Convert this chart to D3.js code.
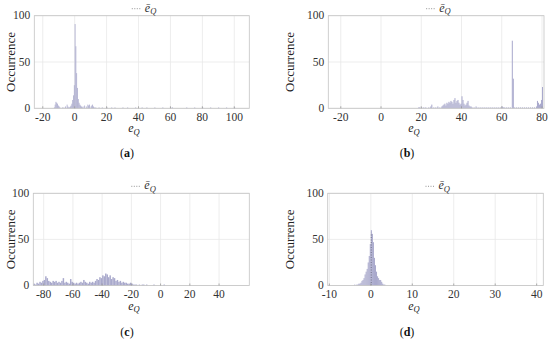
<!DOCTYPE html>
<html>
<head>
<meta charset="utf-8">
<script src="https://cdn.jsdelivr.net/npm/d3@7"></script>
<style>
  body { margin: 0; background: #fff; }
  svg { display: block; }
</style>
</head>
<body>
<svg id="chart" width="550" height="342" font-family="'Liberation Serif', 'DejaVu Serif', serif"></svg>
<script>
// ---- data ----
var yTicks = [0, 50, 100];

// (a)
var aTicks = [-20, 0, 20, 40, 60, 80, 100];
var aBinWidth = 0.5;
var aBinX = [-13, -12.5, -12, -11.5, -11, -10.5, -10, -9.5, -8, -7, -6, -5, -4.5, -4, -3.5, -3, -2.5, -2, -1.5, -1, -0.5,
  0, 0.5, 1, 1.5, 2, 2.5, 3, 3.5, 4, 4.5, 5, 6, 7, 8, 8.5, 9, 10, 10.5, 11, 11.5, 12, 13, 15, 17, 20, 23, 25, 30, 33,
  38, 42, 45, 50, 55, 60, 61, 70, 75, 80, 85, 90, 95, 100];
var aCount = [1, 4, 7, 6, 5, 3, 2, 1, 1, 1, 2, 4, 2, 1, 1, 2, 3, 5, 9, 14, 25,
  91, 67, 38, 22, 10, 6, 4, 3, 2, 1, 2, 3, 2, 4, 3, 4, 2, 3, 4, 2, 1, 1, 1, 1, 1, 1, 1, 1, 1,
  1, 1, 1, 1, 1, 1, 1, 1, 1, 1, 1, 1, 1, 1];

// (b)
var bTicks = [-20, 0, 20, 40, 60, 80];
var bBinWidth = 0.5;
var bBinX = [18.5, 19, 20, 21, 22, 23.5, 24.5, 25, 26, 27, 28, 29, 30, 30.5, 31, 31.5, 32, 32.5, 33, 33.5, 34, 34.5,
  35, 35.5, 36, 36.5, 37, 37.5, 38, 38.5, 39, 39.5, 40, 40.5, 41, 41.5, 42, 42.5, 43, 43.5, 44, 44.5, 45, 46, 47, 48,
  49, 50, 51, 52, 53, 54, 55, 56, 57, 58, 59, 60, 60.5, 61, 62, 63, 64, 65, 65.5, 66, 67, 68, 69, 70, 71, 72, 73, 74,
  75, 76, 77, 77.5, 78, 78.5, 79, 79.5, 80];
var bCount = [1, 1, 1, 1, 1, 1, 2, 4, 1, 1, 2, 1, 2, 3, 4, 5, 3, 6, 5, 7, 6, 8,
  7, 5, 9, 11, 6, 8, 9, 6, 4, 5, 13, 9, 5, 3, 4, 6, 8, 3, 2, 2, 1, 1, 2, 1,
  1, 1, 1, 1, 1, 1, 1, 1, 1, 1, 1, 2, 1, 1, 1, 1, 1, 73, 32, 1, 1, 1, 1, 1, 1, 1, 1, 1,
  1, 1, 2, 8, 6, 4, 5, 9, 23];

// (c)
var cTicks = [-80, -60, -40, -20, 0, 20, 40];
var cBinWidth = 1;
var cBinX = [-87, -86, -85, -84, -83, -82, -81, -80, -79, -78, -77, -76, -75, -74, -73, -72, -71, -70, -69, -68, -67,
  -66, -65, -64, -63, -62, -61, -60, -59, -58, -57, -56, -55, -54, -53, -52, -51, -50, -49, -48, -47, -46, -45, -44,
  -43, -42, -41, -40, -39, -38, -37, -36, -35, -34, -33, -32, -31, -30, -29, -28, -27, -26, -25, -24, -23, -22, -21,
  -20, -19, -18, -17, -15, -13, -12, -10, -5, 2];
var cCount = [2, 1, 3, 2, 4, 3, 5, 6, 10, 8, 5, 4, 3, 5, 4, 5, 3, 4, 3, 5, 8,
  3, 4, 3, 2, 7, 4, 3, 2, 3, 2, 3, 4, 3, 6, 4, 3, 2, 4, 3, 4, 3, 5, 7,
  6, 9, 8, 11, 10, 13, 12, 9, 11, 7, 9, 8, 5, 6, 4, 5, 3, 4, 3, 3, 2, 2, 3,
  2, 1, 1, 1, 1, 1, 1, 1, 1, 1];

// (d)
var dTicks = [-10, 0, 10, 20, 30, 40];
var dBinWidth = 0.25;
var dBinX = [-4, -3.5, -3.25, -3, -2.75, -2.5, -2.25, -2, -1.75, -1.5, -1.25, -1, -0.75, -0.5, -0.25,
  0, 0.25, 0.5, 0.75, 1, 1.25, 1.5, 1.75, 2, 2.25, 2.5, 2.75, 3, 3.25];
var dCount = [1, 1, 1, 2, 2, 3, 5, 6, 8, 12, 15, 18, 25, 32, 45,
  60, 56, 47, 30, 22, 15, 10, 8, 6, 6, 4, 2, 1, 1];

// mean line (ē_Q): only visible in (d)
var meanX = [null, null, null, 0.1];
var meanTop = [0, 0, 0, 57];
var captions = ["a", "b", "c", "d"];

// ---- layout ----
var panels = [
  { bins: aBinX, counts: aCount, w: aBinWidth, ticks: aTicks, dom: [-25.3, 109.4],
    left: 34.3, right: 249.3, top: 15.7, bottom: 108.3, labelX: 134, capY: 157, ylabX: 11 },
  { bins: bBinX, counts: bCount, w: bBinWidth, ticks: bTicks, dom: [-26.2, 81],
    left: 328.3, right: 544, top: 15.7, bottom: 108.3, labelX: 414, capY: 157, ylabX: 290 },
  { bins: cBinX, counts: cCount, w: cBinWidth, ticks: cTicks, dom: [-87.1, 60.7],
    left: 33.3, right: 249.3, top: 193.3, bottom: 285.5, labelX: 134, capY: 336, ylabX: 11 },
  { bins: dBinX, counts: dCount, w: dBinWidth, ticks: dTicks, dom: [-10.4, 41.6],
    left: 327.7, right: 543.3, top: 193.3, bottom: 285.5, labelX: 414, capY: 336, ylabX: 290 }
];

var svg = d3.select("#chart");

panels.forEach(function(p, i) {
  var x = d3.scaleLinear().domain(p.dom).range([p.left, p.right]);
  var y = d3.scaleLinear().domain([0, 100]).range([p.bottom, p.top]);
  var g = svg.append("g");

  // grid
  g.selectAll(".vg").data(p.ticks).enter().append("line")
    .attr("x1", d => x(d)).attr("x2", d => x(d))
    .attr("y1", p.top).attr("y2", p.bottom)
    .attr("stroke", "#e8e8e8").attr("stroke-width", 0.8);
  g.selectAll(".hg").data(yTicks).enter().append("line")
    .attr("x1", p.left).attr("x2", p.right)
    .attr("y1", d => y(d)).attr("y2", d => y(d))
    .attr("stroke", "#e8e8e8").attr("stroke-width", 0.8);

  // bars
  var data = p.bins.map((b, k) => ({ x0: b, c: p.counts[k] }));
  g.selectAll(".bar").data(data).enter().append("rect")
    .attr("x", d => x(d.x0))
    .attr("width", d => Math.max(0.8, x(d.x0 + p.w) - x(d.x0)))
    .attr("y", d => y(d.c))
    .attr("height", d => y(0) - y(d.c))
    .attr("fill", "#a9a9cc");

  // mean line
  if (meanX[i] !== null) {
    g.append("line")
      .attr("x1", x(meanX[i])).attr("x2", x(meanX[i]))
      .attr("y1", y(0)).attr("y2", y(meanTop[i]))
      .attr("stroke", "#66667a").attr("stroke-width", 0.8)
      .attr("stroke-dasharray", "1,1.5");
  }

  // frame
  g.append("rect")
    .attr("x", p.left).attr("y", p.top)
    .attr("width", p.right - p.left).attr("height", p.bottom - p.top)
    .attr("fill", "none").attr("stroke", "#c4c4c4").attr("stroke-width", 0.8);

  // tick marks
  g.selectAll(".xt").data(p.ticks).enter().append("line")
    .attr("x1", d => x(d)).attr("x2", d => x(d))
    .attr("y1", p.bottom).attr("y2", p.bottom - 2)
    .attr("stroke", "#999").attr("stroke-width", 0.8);

  // tick labels
  g.selectAll(".xl").data(p.ticks).enter().append("text")
    .attr("x", d => x(d)).attr("y", p.bottom + 12.5)
    .attr("text-anchor", "middle").attr("font-size", 11.5).attr("fill", "#333")
    .text(d => d);
  g.selectAll(".yl").data(yTicks).enter().append("text")
    .attr("x", p.left - 4).attr("y", d => y(d) + 3.5)
    .attr("text-anchor", "end").attr("font-size", 11.5).attr("fill", "#333")
    .text(d => d);

  // y label
  g.append("text")
    .attr("transform", "translate(" + (p.ylabX + 4) + "," + ((p.top + p.bottom) / 2) + ") rotate(-90)")
    .attr("text-anchor", "middle").attr("font-size", 13).attr("fill", "#222")
    .text("Occurrence");

  // x label e_Q
  var xl = g.append("text")
    .attr("x", p.labelX).attr("y", p.bottom + 24)
    .attr("text-anchor", "middle").attr("font-size", 12).attr("fill", "#222")
    .attr("font-style", "italic");
  xl.append("tspan").text("e");
  xl.append("tspan").attr("font-size", 8.5).attr("dy", 2.5).text("Q");

  // legend
  var cx = (p.left + p.right) / 2 + 3;
  var ly = p.top - 7;
  g.append("line")
    .attr("x1", cx - 13).attr("x2", cx - 3)
    .attr("y1", ly).attr("y2", ly)
    .attr("stroke", "#777").attr("stroke-width", 0.8)
    .attr("stroke-dasharray", "1,1.5");
  var lt = g.append("text")
    .attr("x", cx).attr("y", ly + 3)
    .attr("font-size", 12).attr("fill", "#333").attr("font-style", "italic");
  lt.append("tspan").text("ē");
  lt.append("tspan").attr("font-size", 8.5).attr("dy", 2.5).text("Q");

  // caption
  var cap = svg.append("text")
    .attr("x", p.labelX - 7).attr("y", p.capY)
    .attr("text-anchor", "middle").attr("font-size", 12).attr("fill", "#111");
  cap.append("tspan").text("(");
  cap.append("tspan").attr("font-weight", "bold").text(captions[i]);
  cap.append("tspan").text(")");
});
</script>
</body>
</html>
